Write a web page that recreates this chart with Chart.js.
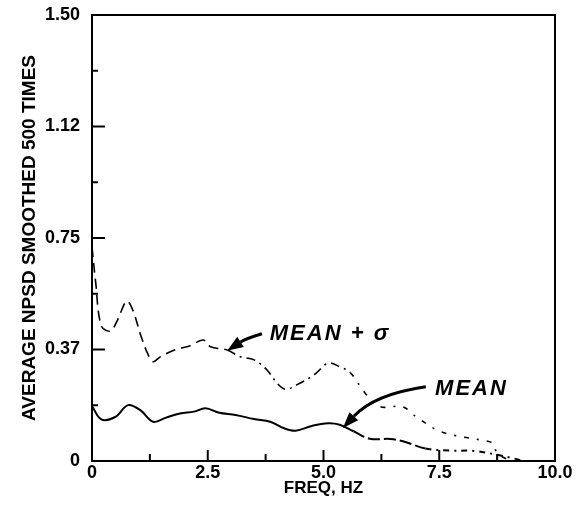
<!DOCTYPE html>
<html>
<head>
<meta charset="utf-8">
<script src="https://cdn.jsdelivr.net/npm/chart.js@4/dist/chart.umd.min.js"></script>
<style>
  html, body { margin: 0; padding: 0; background: #fff; }
  #wrap { width: 585px; height: 505px; position: relative; }
</style>
</head>
<body>
<div id="wrap"><canvas id="npsdChart"></canvas></div>
<script>
// data
const meanX = [0, 0.2, 0.5, 0.78, 1.05, 1.32, 1.6, 1.9, 2.2, 2.45, 2.75, 3.1, 3.5, 3.85, 4.15, 4.4, 4.75, 5.1, 5.35, 5.65, 6.0, 6.45, 6.75, 7.2, 7.75, 8.25, 8.65, 9.1, 9.3];
const meanY = [0.185, 0.14, 0.148, 0.188, 0.17, 0.132, 0.146, 0.16, 0.166, 0.177, 0.162, 0.155, 0.141, 0.132, 0.11, 0.102, 0.118, 0.127, 0.122, 0.1, 0.075, 0.074, 0.065, 0.042, 0.035, 0.034, 0.024, 0.009, 0.0];

const sigmaX = [0, 0.08, 0.2, 0.4, 0.55, 0.75, 0.88, 1.05, 1.2, 1.32, 1.48, 1.78, 2.12, 2.4, 2.56, 2.92, 3.2, 3.5, 3.78, 4.0, 4.18, 4.42, 4.8, 5.1, 5.35, 5.58, 5.9, 6.22, 6.7, 7.0, 7.45, 7.8, 8.38, 8.65, 8.75, 8.97];
const sigmaY = [0.72, 0.6, 0.455, 0.437, 0.474, 0.538, 0.508, 0.424, 0.362, 0.334, 0.351, 0.373, 0.388, 0.407, 0.384, 0.373, 0.351, 0.34, 0.306, 0.261, 0.241, 0.256, 0.29, 0.329, 0.317, 0.297, 0.228, 0.183, 0.183, 0.149, 0.104, 0.087, 0.071, 0.06, 0.027, 0.005];

const xTickLabels = ['0', '2.5', '5.0', '7.5', '10.0'];
const yTickLabels = ['0', '0.37', '0.75', '1.12', '1.50'];

// label positions (data units)
const notes = [
  { text: 'MEAN + \u03c3', x: 3.84, y: 0.428, from: [3.67, 0.428], ctrl: [3.3, 0.41], to: [2.92, 0.371] },
  { text: 'MEAN', x: 7.41, y: 0.244, from: [7.21, 0.25], ctrl: [6.1, 0.225], to: [5.42, 0.111] }
];

const toPts = (xs, ys) => xs.map((x, i) => ({ x: x, y: ys[i] }));
const FONT = '"Liberation Sans", Arial, sans-serif';

// inward ticks, box frame, arrows and labels
const framePlugin = {
  id: 'frame',
  afterDatasetsDraw(chart) {
    const ctx = chart.ctx;
    const a = chart.chartArea;
    const xs = chart.scales.x, ys = chart.scales.y;
    ctx.save();
    ctx.strokeStyle = '#000';
    ctx.lineWidth = 2;
    ctx.strokeRect(a.left, a.top, a.right - a.left, a.bottom - a.top);

    xs.ticks.forEach((t, i) => {
      const px = xs.getPixelForValue(t.value);
      const len = i % 2 === 0 ? 11 : 7;
      ctx.beginPath();
      ctx.moveTo(px, a.bottom);
      ctx.lineTo(px, a.bottom - len);
      ctx.stroke();
    });
    ys.ticks.forEach((t, i) => {
      const py = ys.getPixelForValue(t.value);
      const len = i % 2 === 0 ? 13 : 6;
      ctx.beginPath();
      ctx.moveTo(a.left, py);
      ctx.lineTo(a.left + len, py);
      ctx.stroke();
    });

    notes.forEach(n => {
      const fx = xs.getPixelForValue(n.from[0]), fy = ys.getPixelForValue(n.from[1]);
      const cx = xs.getPixelForValue(n.ctrl[0]), cy = ys.getPixelForValue(n.ctrl[1]);
      const tx = xs.getPixelForValue(n.to[0]), ty = ys.getPixelForValue(n.to[1]);
      const ang = Math.atan2(ty - cy, tx - cx);
      const hl = 16, hw = 6;
      const bx = tx - hl * Math.cos(ang), by = ty - hl * Math.sin(ang);
      ctx.lineWidth = 3;
      ctx.beginPath();
      ctx.moveTo(fx, fy);
      ctx.quadraticCurveTo(cx, cy, bx, by);
      ctx.stroke();
      ctx.fillStyle = '#000';
      ctx.beginPath();
      ctx.moveTo(tx, ty);
      ctx.lineTo(bx - hw * Math.sin(ang), by + hw * Math.cos(ang));
      ctx.lineTo(bx + hw * Math.sin(ang), by - hw * Math.cos(ang));
      ctx.closePath();
      ctx.fill();

      ctx.font = 'italic bold 22px ' + FONT;
      ctx.letterSpacing = '2px';
      ctx.textBaseline = 'middle';
      ctx.textAlign = 'left';
      ctx.fillText(n.text, xs.getPixelForValue(n.x), ys.getPixelForValue(n.y));
    });
    ctx.restore();
  }
};

const ctx = document.getElementById('npsdChart').getContext('2d');

new Chart(ctx, {
  type: 'line',
  data: {
    datasets: [
      {
        label: 'MEAN',
        data: toPts(meanX, meanY),
        borderColor: '#000',
        borderWidth: 2,
        pointRadius: 0,
        tension: 0.35,
        segment: {
          borderDash: c => c.p0.parsed.x >= 7 ? [6, 5, 2, 5] : (c.p0.parsed.x >= 5.6 ? [12, 4] : undefined)
        }
      },
      {
        label: 'MEAN + \u03c3',
        data: toPts(sigmaX, sigmaY),
        borderColor: '#000',
        borderWidth: 1.6,
        pointRadius: 0,
        tension: 0.35,
        segment: {
          borderDash: c => c.p0.parsed.x >= 5.5 ? [5, 8, 2, 8] : (c.p0.parsed.x >= 2.6 ? [9, 5, 2, 5] : [10, 6])
        }
      }
    ]
  },
  options: {
    responsive: true,
    maintainAspectRatio: false,
    animation: false,
    layout: { padding: { top: 15, right: 30, left: 0, bottom: 0 } },
    plugins: {
      legend: { display: false },
      tooltip: { enabled: false }
    },
    scales: {
      x: {
        type: 'linear',
        min: 0,
        max: 10,
        afterFit: s => { s.height = 44; },
        grid: { display: true, drawOnChartArea: false, drawTicks: false },
        border: { display: true, color: '#000', width: 2 },
        ticks: {
          stepSize: 1.25,
          padding: 1,
          color: '#000',
          font: { family: FONT, size: 18, weight: 'bold' },
          maxRotation: 0,
          autoSkip: false,
          callback: (v, i) => i % 2 === 0 ? xTickLabels[i / 2] : ''
        },
        title: {
          display: true,
          text: 'FREQ, HZ',
          color: '#000',
          font: { family: FONT, size: 17, weight: 'bold' },
          padding: { top: 0, bottom: 6 }
        }
      },
      y: {
        min: 0,
        max: 1.5,
        afterFit: s => { s.width = 92; s.paddingTop = 0; s.paddingBottom = 0; },
        grid: { display: true, drawOnChartArea: false, drawTicks: false },
        border: { display: true, color: '#000', width: 2 },
        ticks: {
          stepSize: 0.1875,
          padding: 12,
          color: '#000',
          font: { family: FONT, size: 18, weight: 'bold' },
          autoSkip: false,
          callback: (v, i) => i % 2 === 0 ? yTickLabels[i / 2] : ''
        },
        title: {
          display: true,
          text: 'AVERAGE NPSD SMOOTHED 500 TIMES',
          color: '#000',
          font: { family: FONT, size: 19, weight: 'bold' },
          padding: { top: 18, bottom: 0 }
        }
      }
    }
  },
  plugins: [framePlugin]
});
</script>
</body>
</html>
